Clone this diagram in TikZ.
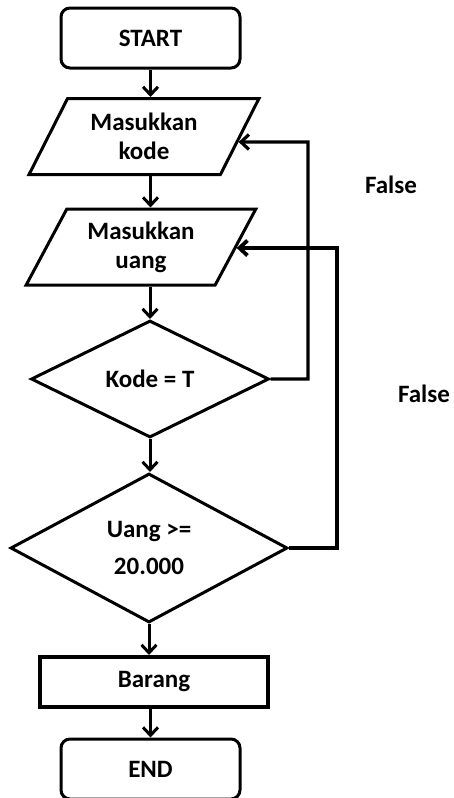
\documentclass[tikz,border=0pt]{standalone}
\usepackage{fontspec}
\setmainfont{Carlito}
\usetikzlibrary{shapes.geometric,arrows.meta}

\begin{document}
\begin{tikzpicture}[x=1pt,y=-1pt,
  font=\fontsize{25}{29}\selectfont\bfseries,
  term/.style={draw, rounded corners=9pt, line width=3pt, minimum width=179pt, minimum height=60pt, inner sep=0pt},
  io/.style={draw, trapezium, trapezium left angle=60, trapezium right angle=120, trapezium stretches=true, line width=3pt, minimum width=230pt, minimum height=76pt, inner sep=0pt, align=center},
  cond/.style={draw, diamond, line width=3pt, minimum width=238pt, minimum height=117pt, inner sep=0pt, align=center},
  proc/.style={draw, line width=4pt, minimum width=228pt, minimum height=50pt, inner sep=0pt},
  arrowline/.style={-{Straight Barb[length=8pt,width=15pt]}}]
\useasboundingbox (0,0) rectangle (454,798);
\node[term] (start) at (150.5,38) {START};
\node[io] (kode) at (144,136.5) {Masukkan\\kode};
\node[io] (uang) at (141,247) {Masukkan\\uang};
\node[cond] (cekkode) at (150,379) {Kode = T};
\node[cond, minimum width=277pt, minimum height=149pt] (cekuang) at (149,548) {Uang >=\\[8pt]20.000};
\node[proc] (barang) at (154,682) {Barang};
\node[term] (end) at (150.5,769) {END};
\node (false1) at (391,185) {False};
\node (false2) at (424,394) {False};
\coordinate (k1) at (308,142);
\coordinate (k2) at (337,248);
\coordinate (k1w) at (k1 -| kode.center);
\coordinate (k2w) at (k2 -| uang.center);
\coordinate (k1e) at (intersection of k1--k1w and kode.top right corner--kode.bottom right corner);
\coordinate (k2e) at (intersection of k2--k2w and uang.top right corner--uang.bottom right corner);

\path[draw,line width=3pt,arrowline] (start) -- (start |- kode.north);
\path[draw,line width=3pt,arrowline] (kode.south -| start) -- (uang.north -| start);
\path[draw,line width=3pt,arrowline] (uang.south -| cekkode) -- (cekkode.north);
\path[draw,line width=3pt,arrowline] (cekkode.south) -- (cekuang.north -| cekkode);
\path[draw,line width=3pt,arrowline] (cekuang.south) -- (barang.north -| cekuang);
\path[draw,line width=3pt,arrowline] (barang.south -| end) -- (end.north);
\path[draw,line width=3.2pt,arrowline] (cekkode.east) -| (k1) -- (k1e);
\path[draw,line width=3.8pt,arrowline] (cekuang.east) -| (k2) -- (k2e);
\end{tikzpicture}
\end{document}
